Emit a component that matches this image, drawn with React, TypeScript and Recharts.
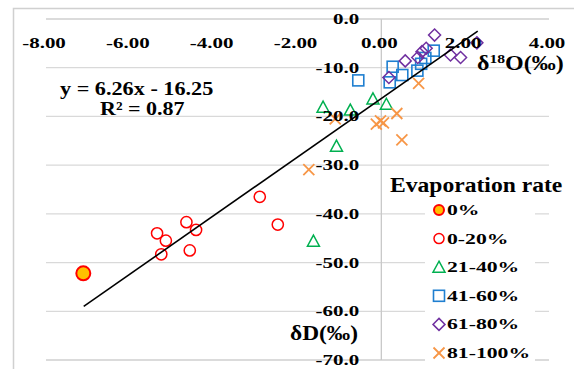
import React from "react";
import {
  ScatterChart,
  Scatter,
  XAxis,
  YAxis,
  CartesianGrid,
  ReferenceLine,
} from "recharts";

// values (δ18O, δD)
const EVAP_0 = [{ x: -7.11, y: -52.2 }];
const EVAP_0_20 = [
  { x: -5.35, y: -44.0 },
  { x: -5.14, y: -45.5 },
  { x: -5.25, y: -48.3 },
  { x: -4.65, y: -41.7 },
  { x: -4.42, y: -43.3 },
  { x: -4.57, y: -47.5 },
  { x: -2.9, y: -36.5 },
  { x: -2.47, y: -42.2 },
];
const EVAP_21_40 = [
  { x: -1.39, y: -18.1 },
  { x: -0.74, y: -18.7 },
  { x: -0.2, y: -16.4 },
  { x: 0.12, y: -17.5 },
  { x: -1.07, y: -26.1 },
  { x: -1.62, y: -45.6 },
];
const EVAP_41_60 = [
  { x: -0.55, y: -12.6 },
  { x: 0.27, y: -9.8 },
  { x: 0.2, y: -13.0 },
  { x: 0.5, y: -11.5 },
  { x: 0.86, y: -10.6 },
  { x: 0.95, y: -9.2 },
  { x: 1.05, y: -8.0 },
  { x: 1.25, y: -6.5 },
];
const EVAP_61_80 = [
  { x: 0.18, y: -12.0 },
  { x: 0.57, y: -8.6 },
  { x: 0.87, y: -7.9 },
  { x: 0.97, y: -6.7 },
  { x: 1.07, y: -6.0 },
  { x: 1.27, y: -3.3 },
  { x: 1.65, y: -7.4 },
  { x: 1.89, y: -7.9 },
  { x: 2.28, y: -4.9 },
];
const EVAP_81_100 = [
  { x: 0.89, y: -13.2 },
  { x: 0.37, y: -19.4 },
  { x: -0.02, y: -20.9 },
  { x: 0.05, y: -21.3 },
  { x: -0.12, y: -21.6 },
  { x: 0.49, y: -24.8 },
  { x: -1.1, y: -20.5 },
  { x: -1.73, y: -30.9 },
];
const TREND = [
  { x: -7.1, y: -59.0 },
  { x: 2.3, y: -2.5 },
];

const X_TICKS = [-8, -6, -4, -2, 0, 2, 4];
const Y_TICKS = [-70, -60, -50, -40, -30, -20, -10, 0];
const EQUATION = "y = 6.26x - 16.25";
const R2_LABEL = "R² = 0.87";

const W = 574;
const H = 369;
const PLOT = { top: 19, left: 46, right: 549, bottom: 360 };
const X0_PX =
  PLOT.left +
  ((0 - X_TICKS[0]) / (X_TICKS[X_TICKS.length - 1] - X_TICKS[0])) * (PLOT.right - PLOT.left);
const FONT = "'Liberation Serif', 'Times New Roman', serif";
const GRID = "#d9d9d9";

type Mk = (cx: number, cy: number, legend?: boolean) => React.ReactElement;

const filledCircle: Mk = (cx, cy, lg) => (
  <circle cx={cx} cy={cy} r={lg ? 5 : 7} fill="#FFC000" stroke="#FF0000" strokeWidth={2} />
);
const openCircle: Mk = (cx, cy, lg) => (
  <circle cx={cx} cy={cy} r={lg ? 5 : 5.6} fill="none" stroke="#FF0000" strokeWidth={1.5} />
);
const triangle: Mk = (cx, cy) => (
  <polygon
    points={`${cx},${cy - 6} ${cx + 6},${cy + 5} ${cx - 6},${cy + 5}`}
    fill="none"
    stroke="#00B050"
    strokeWidth={1.5}
  />
);
const square: Mk = (cx, cy) => (
  <rect x={cx - 5.5} y={cy - 5.5} width={11} height={11} fill="none" stroke="#1F7FD0" strokeWidth={1.6} />
);
const diamond: Mk = (cx, cy) => (
  <polygon
    points={`${cx},${cy - 6} ${cx + 6},${cy} ${cx},${cy + 6} ${cx - 6},${cy}`}
    fill="none"
    stroke="#7030A0"
    strokeWidth={1.5}
  />
);
const cross: Mk = (cx, cy) => (
  <g stroke="#F79646" strokeWidth={1.8}>
    <line x1={cx - 5.5} y1={cy - 5.5} x2={cx + 5.5} y2={cy + 5.5} />
    <line x1={cx - 5.5} y1={cy + 5.5} x2={cx + 5.5} y2={cy - 5.5} />
  </g>
);

const SERIES = [
  { name: "0%", data: EVAP_0, mk: filledCircle },
  { name: "0-20%", data: EVAP_0_20, mk: openCircle },
  { name: "21-40%", data: EVAP_21_40, mk: triangle },
  { name: "41-60%", data: EVAP_41_60, mk: square },
  { name: "61-80%", data: EVAP_61_80, mk: diamond },
  { name: "81-100%", data: EVAP_81_100, mk: cross },
];

const renderXTick = (props: any) => {
  const { x, payload } = props;
  return (
    <text
      transform={`translate(${x - 2},${PLOT.top + 29}) scale(1.4,1)`}
      textAnchor="middle"
      fontFamily={FONT}
      fontWeight="bold"
      fontSize={15}
      fill="#000"
    >
      {Number(payload.value).toFixed(2)}
    </text>
  );
};

const renderYTick = (props: any) => {
  const { y, payload } = props;
  return (
    <text
      transform={`translate(${X0_PX - 22},${y + 5}) scale(1.4,1)`}
      textAnchor="end"
      fontFamily={FONT}
      fontWeight="bold"
      fontSize={15}
      fill="#000"
    >
      {Number(payload.value).toFixed(1)}
    </text>
  );
};

const txt = (x: number, y: number, sx: number, size: number, content: React.ReactNode) => (
  <text
    transform={`translate(${x},${y}) scale(${sx},1)`}
    fontFamily={FONT}
    fontWeight="bold"
    fontSize={size}
    fill="#000"
  >
    {content}
  </text>
);

export default function App() {
  return (
    <div style={{ position: "absolute", left: 0, top: 0, width: W, height: H, background: "#fff" }}>
      <ScatterChart
        width={W}
        height={H}
        margin={{ top: PLOT.top - 10, left: PLOT.left - 10, right: W - PLOT.right, bottom: H - PLOT.bottom }}
      >
        <CartesianGrid vertical={false} stroke={GRID} strokeWidth={1.3} />
        <XAxis
          dataKey="x"
          type="number"
          orientation="top"
          domain={[-8, 4]}
          ticks={X_TICKS}
          height={10}
          axisLine={false}
          tickLine={false}
          tick={renderXTick}
          interval={0}
        />
        <YAxis
          dataKey="y"
          type="number"
          domain={[-70, 0]}
          ticks={Y_TICKS}
          width={10}
          axisLine={false}
          tickLine={false}
          tick={renderYTick}
          interval={0}
        />
        <ReferenceLine y={0} stroke={GRID} strokeWidth={1.3} />
        <ReferenceLine y={-70} stroke={GRID} strokeWidth={1.3} />
        <ReferenceLine x={0} stroke="#c8c8c8" strokeWidth={1.3} />
        {SERIES.map((s) => (
          <Scatter
            key={s.name}
            name={s.name}
            data={s.data}
            isAnimationActive={false}
            shape={(p: any) => s.mk(p.cx, p.cy)}
          />
        ))}
        <Scatter
          name="trend"
          data={TREND}
          isAnimationActive={false}
          line={{ stroke: "#000", strokeWidth: 1.6 }}
          shape={() => <g />}
        />
      </ScatterChart>
      <svg
        width={W}
        height={H}
        style={{ position: "absolute", left: 0, top: 0, pointerEvents: "none" }}
      >
        <rect x={13.5} y={8.5} width={700} height={500} fill="none" stroke="#d0d0d0" strokeWidth={1.5} />
        {txt(60, 95, 1.17, 19, EQUATION)}
        {txt(100, 115, 1.16, 19, R2_LABEL)}
        {txt(
          477,
          70,
          1.2,
          20,
          <>
            δ<tspan fontSize={13} dy={-7}>18</tspan>
            <tspan dy={7}>O(‰)</tspan>
          </>
        )}
        {txt(290, 340, 1.17, 20, "δD(‰)")}
        <rect x={425} y={198} width={110} height={168} fill="#fff" />
        {txt(390, 192, 1.18, 20, "Evaporation rate")}
        {SERIES.map((s, i) => {
          const cy = 210 + i * 28.6;
          return (
            <g key={s.name}>
              {s.mk(439, cy, true)}
              {txt(447, cy + 5, 1.4, 15.5, s.name)}
            </g>
          );
        })}
      </svg>
    </div>
  );
}
